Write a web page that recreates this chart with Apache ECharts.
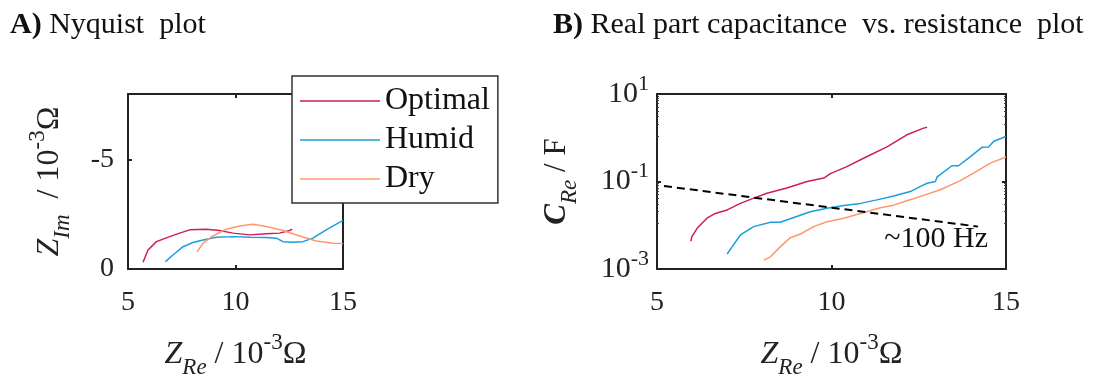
<!DOCTYPE html>
<html>
<head>
<meta charset="utf-8">
<script src="https://cdn.jsdelivr.net/npm/echarts@6/dist/echarts.min.js"></script>
<style>
html,body{margin:0;padding:0;background:#fff;}
#c{width:1104px;height:376px;}
</style>
</head>
<body>
<div id="c"></div>
<script>
// ---- Data ----
const seriesNames = ['Optimal', 'Humid', 'Dry'];
// Panel A: Nyquist, [Z_Re (1e-3 Ohm), -Z_Im (1e-3 Ohm)]
const nyqOptimal = [[5.70,0.31],[5.93,0.87],[6.32,1.25],[6.94,1.48],[7.40,1.64],[7.87,1.79],[8.64,1.82],[9.26,1.76],[9.88,1.64],[10.66,1.56],[11.43,1.61],[12.05,1.64],[12.52,1.76],[12.64,1.82]];
const nyqHumid = [[6.74,0.34],[7.09,0.64],[7.56,1.02],[8.02,1.21],[8.49,1.33],[9.11,1.45],[9.88,1.48],[10.66,1.45],[11.43,1.44],[11.90,1.41],[12.21,1.25],[12.67,1.22],[13.14,1.25],[13.60,1.41],[14.22,1.79],[15.0,2.22]];
const nyqDry = [[8.22,0.78],[8.49,1.18],[8.95,1.51],[9.57,1.82],[10.19,1.97],[10.81,2.05],[11.43,1.94],[12.21,1.76],[12.98,1.51],[13.76,1.28],[14.53,1.18],[15.0,1.16]];
// Panel B: [Z_Re (1e-3 Ohm), C_Re (F)]
const capOptimal = [[5.97,0.0043],[6.00,0.0055],[6.15,0.0085],[6.43,0.0145],[6.67,0.0186],[7.01,0.0224],[7.39,0.0316],[7.77,0.0417],[8.15,0.0537],[8.72,0.0708],[9.30,0.100],[9.78,0.120],[9.97,0.151],[10.44,0.219],[11.02,0.372],[11.59,0.617],[12.16,1.17],[12.64,1.66],[12.74,1.74]];
const capHumid = [[7.01,0.0022],[7.15,0.0032],[7.39,0.0060],[7.77,0.0093],[8.25,0.0117],[8.53,0.0117],[8.92,0.0151],[9.39,0.0204],[9.87,0.0245],[10.35,0.0282],[10.83,0.0316],[11.30,0.0380],[11.78,0.0468],[12.26,0.0589],[12.55,0.0776],[12.74,0.0912],[12.98,0.100],[13.02,0.126],[13.45,0.229],[13.64,0.229],[13.98,0.372],[14.31,0.603],[14.50,0.617],[14.65,0.832],[15.0,1.07]];
const capDry = [[8.06,0.0016],[8.25,0.0019],[8.53,0.0032],[8.82,0.0052],[9.11,0.0063],[9.49,0.0093],[9.87,0.0120],[10.35,0.0145],[10.83,0.0186],[11.40,0.0251],[11.78,0.0288],[12.16,0.0363],[12.55,0.0457],[13.12,0.0646],[13.69,0.105],[14.07,0.155],[14.55,0.263],[15.0,0.363]];
const freqLine = [[5.2,0.079],[14.2,0.0093]];
const freqLabel = '~100 Hz';
const freqLabelAt = [13.0, 0.0048];
const titleA = ['A)', ' Nyquist  plot'];
const titleB = ['B)', ' Real part capacitance  vs. resistance  plot'];

// ---- Style ----
const colors = ['#CC1F55', '#1A9EDD', '#FF976C'];
const FONT = 'Liberation Serif';
const axisCol = '#222';
const tickFont = {fontFamily: FONT, fontSize: 28, color: '#222'};

function nameRich(size, sub) {
  return {
    i: {fontFamily: FONT, fontSize: size, fontStyle: 'italic', color: '#222', lineHeight: 48, verticalAlign: 'middle'},
    ib: {fontFamily: FONT, fontSize: size, fontStyle: 'italic', fontWeight: 'bold', color: '#222', lineHeight: 48, verticalAlign: 'middle'},
    n: {fontFamily: FONT, fontSize: size, color: '#222', lineHeight: 48, verticalAlign: 'middle'},
    sub: {fontFamily: FONT, fontSize: sub, fontStyle: 'italic', color: '#222', lineHeight: sub, verticalAlign: 'bottom'},
    sup: {fontFamily: FONT, fontSize: sub, color: '#222', lineHeight: sub, verticalAlign: 'top'}
  };
}

const chart = echarts.init(document.getElementById('c'), null, {renderer: 'canvas'});

function xAx(grid) {
  return {
    gridIndex: grid, type: 'value', min: 5, max: 15, interval: 5,
    axisLine: {show: true, onZero: false, lineStyle: {color: axisCol, width: 2}},
    axisTick: {show: true, inside: true, length: 4, lineStyle: {color: axisCol, width: 2}},
    axisLabel: Object.assign({margin: 20}, tickFont),
    splitLine: {show: false},
    name: '{i|Z}{sub|Re}{n| / 10}{sup|-3}{n|Ω}',
    nameLocation: 'middle', nameGap: 62,
    nameTextStyle: {rich: nameRich(32, 23)}
  };
}
function xTop(grid) {
  return {
    gridIndex: grid, type: 'value', min: 5, max: 15, interval: 5, position: 'top',
    axisLine: {show: true, onZero: false, lineStyle: {color: axisCol, width: 2}},
    axisTick: {show: true, inside: true, length: 4, lineStyle: {color: axisCol, width: 2}},
    axisLabel: {show: false}, splitLine: {show: false}
  };
}
const titleRich = {
  b: {fontFamily: FONT, fontSize: 30, fontWeight: 'bold', color: '#111'},
  n: {fontFamily: FONT, fontSize: 30, fontWeight: 'normal', color: '#111'}
};

const option = {
  backgroundColor: '#fff',
  animation: false,
  color: colors,
  title: [
    {text: '{b|' + titleA[0] + '}{n|' + titleA[1] + '}', left: 10, top: 10, padding: 0,
     textStyle: {fontWeight: 'normal', rich: titleRich}},
    {text: '{b|' + titleB[0] + '}{n|' + titleB[1] + '}', left: 553, top: 10, padding: 0,
     textStyle: {fontWeight: 'normal', rich: titleRich}}
  ],
  grid: [
    {left: 128, width: 215, top: 94, height: 175, outerBoundsMode: 'none', containLabel: false},
    {left: 657, width: 349, top: 94, height: 175, outerBoundsMode: 'none', containLabel: false}
  ],
  xAxis: [xAx(0), xAx(1), xTop(0), xTop(1)],
  yAxis: [
    {gridIndex: 0, type: 'value', min: 0, max: 8, interval: 5,
     axisLine: {show: true, onZero: false, lineStyle: {color: axisCol, width: 2}},
     axisTick: {show: true, inside: true, length: 4, lineStyle: {color: axisCol, width: 2}},
     axisLabel: Object.assign({margin: 14, showMaxLabel: false, formatter: v => v === 0 ? '0' : (v === 5 ? '-5' : '')}, tickFont),
     splitLine: {show: false},
     name: '{i|Z}{sub|Im}{n|  / 10}{sup|-3}{n|Ω}', nameLocation: 'middle', nameGap: 54, nameRotate: 90,
     nameTextStyle: {rich: nameRich(32, 23)}},
    {gridIndex: 1, type: 'log', logBase: 10, min: 0.001, max: 10, interval: 2,
     axisLine: {show: true, onZero: false, lineStyle: {color: axisCol, width: 2}},
     axisTick: {show: true, inside: true, length: 4, lineStyle: {color: axisCol, width: 2}},
     minorTick: {show: true, splitNumber: 10, length: 2, lineStyle: {color: '#444', width: 1}},
     axisLabel: Object.assign({margin: 8, formatter: v => '{b|10}{e|' + Math.round(Math.log10(v)) + '}',
       rich: {b: {fontFamily: FONT, fontSize: 30, color: '#222', lineHeight: 42, verticalAlign: 'middle'}, e: {fontFamily: FONT, fontSize: 22, color: '#222', lineHeight: 22, verticalAlign: 'top'}}}, tickFont),
     splitLine: {show: false},
     name: '{ib|C}{sub|Re}{n| / F}', nameLocation: 'middle', nameGap: 76, nameRotate: 90,
     nameTextStyle: {rich: nameRich(31, 23)}},
    {gridIndex: 0, type: 'value', min: 0, max: 8, interval: 5, position: 'right',
     axisLine: {show: true, onZero: false, lineStyle: {color: axisCol, width: 2}},
     axisTick: {show: true, inside: true, length: 4, lineStyle: {color: axisCol, width: 2}},
     axisLabel: {show: false}, splitLine: {show: false}},
    {gridIndex: 1, type: 'log', logBase: 10, min: 0.001, max: 10, interval: 2, position: 'right',
     axisLine: {show: true, onZero: false, lineStyle: {color: axisCol, width: 2}},
     axisTick: {show: true, inside: true, length: 4, lineStyle: {color: axisCol, width: 2}},
     minorTick: {show: true, splitNumber: 10, length: 2, lineStyle: {color: '#444', width: 1}},
     axisLabel: {show: false}, splitLine: {show: false}}
  ],
  legend: {
    left: 292, top: 76, width: 208, height: 122,
    orient: 'vertical', itemGap: 7, itemWidth: 80, itemHeight: 20,
    padding: [9, 8, 8, 8],
    backgroundColor: '#fff', borderColor: '#333', borderWidth: 1.5,
    data: seriesNames.map(n => ({name: n, icon: 'path://M0,10 L80,10 L80,11.5 L0,11.5 Z'})),
    textStyle: {fontFamily: FONT, fontSize: 32, color: '#111', padding: [0, 0, 0, 0]},
    z: 10
  },
  series: [
    {name: seriesNames[0], type: 'line', xAxisIndex: 0, yAxisIndex: 0, data: nyqOptimal, showSymbol: false, symbol: 'none', lineStyle: {width: 1.5}},
    {name: seriesNames[1], type: 'line', xAxisIndex: 0, yAxisIndex: 0, data: nyqHumid, showSymbol: false, symbol: 'none', lineStyle: {width: 1.5}},
    {name: seriesNames[2], type: 'line', xAxisIndex: 0, yAxisIndex: 0, data: nyqDry, showSymbol: false, symbol: 'none', lineStyle: {width: 1.5}},
    {name: seriesNames[0], type: 'line', xAxisIndex: 1, yAxisIndex: 1, data: capOptimal, showSymbol: false, symbol: 'none', lineStyle: {width: 1.5}},
    {name: seriesNames[1], type: 'line', xAxisIndex: 1, yAxisIndex: 1, data: capHumid, showSymbol: false, symbol: 'none', lineStyle: {width: 1.5}},
    {name: seriesNames[2], type: 'line', xAxisIndex: 1, yAxisIndex: 1, data: capDry, showSymbol: false, symbol: 'none', lineStyle: {width: 1.5}},
    {name: 'freq', type: 'line', xAxisIndex: 1, yAxisIndex: 1, data: freqLine, showSymbol: false, symbol: 'none',
     lineStyle: {color: '#000', width: 2, type: [8, 5]}, z: 5,
     markPoint: {symbol: 'circle', symbolSize: 0, data: [{coord: freqLabelAt}],
       label: {show: true, position: 'inside', formatter: freqLabel, fontFamily: FONT, fontSize: 30, color: '#111'}}}
  ]
};
chart.setOption(option);
</script>
</body>
</html>
